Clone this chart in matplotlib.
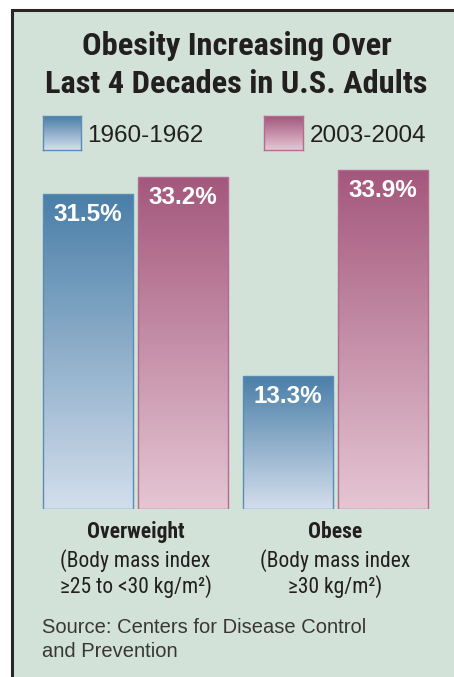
import numpy as np
import matplotlib
matplotlib.use("Agg")
import matplotlib.pyplot as plt
from matplotlib.lines import Line2D
from matplotlib.patches import Rectangle
from matplotlib.colors import LinearSegmentedColormap

# ---------------- data ----------------
categories = ["Overweight", "Obese"]
cat_notes = ["(Body mass index\n\u226525 to <30 kg/m\u00b2)", "(Body mass index\n\u226530 kg/m\u00b2)"]
series_names = ["1960-1962", "2003-2004"]
values_1960 = [31.5, 13.3]
values_2003 = [33.2, 33.9]
title_lines = ["Obesity Increasing Over", "Last 4 Decades in U.S. Adults"]
source_lines = ["Source: Centers for Disease Control", "and Prevention"]

W, H = 454, 677
DPI = 100
fig = plt.figure(figsize=(W / DPI, H / DPI), dpi=DPI)
fig.patch.set_facecolor("white")

def fx(x):
    return x / W

def fy(y):
    return 1 - y / H

BG = "#d2e2d8"
DARK = "#231f20"
COND = ["Roboto Condensed", "DejaVu Sans"]
REG = ["Liberation Sans", "DejaVu Sans"]

# background panel and frame
fig.patches.append(Rectangle((fx(12), 0), 1 - fx(12), fy(9), transform=fig.transFigure,
                             facecolor=BG, edgecolor="none", zorder=-10))
fig.lines.append(Line2D([fx(12), fx(12), 1], [0, fy(9.5), fy(9.5)], transform=fig.transFigure,
                        color="#2a2626", lw=2.2, solid_joinstyle="miter", zorder=-5))

blue_cmap = LinearSegmentedColormap.from_list("b", ["#d3deec", "#4a7fa8"])
pink_cmap = LinearSegmentedColormap.from_list("p", ["#e5c6d3", "#a4577c"])
blue_edge = "#5a8cb8"
pink_edge = "#b36c90"

# axes: bottom at y=509 px, 10 px per percent
ax_bottom = 509
ax_top = 169
ax = fig.add_axes([fx(35.5), fy(ax_bottom), fx(400), (ax_bottom - ax_top) / H])
ax.axis("off")

x = np.arange(len(categories))
bw = 0.45
off = 0.2375
grad = np.linspace(0, 1, 256).reshape(-1, 1)

def grad_bars(xs, vals, cmap, edge):
    bars = ax.bar(xs, vals, width=bw, facecolor="none", edgecolor=edge, linewidth=1.0, zorder=3)
    for b in bars:
        x0, y0 = b.get_x(), b.get_y()
        im = ax.imshow(grad, cmap=cmap, origin="lower", aspect="auto",
                       extent=[x0, x0 + b.get_width(), y0, y0 + b.get_height()], zorder=2)
        im.set_clip_path(b)
    return bars

grad_bars(x - off, values_1960, blue_cmap, blue_edge)
grad_bars(x + off, values_2003, pink_cmap, pink_edge)
ax.set_xlim(-0.5, 1.5)
ax.set_ylim(0, (ax_bottom - ax_top) / 10)

for xs, vals in ((x - off, values_1960), (x + off, values_2003)):
    for xi, v in zip(xs, vals):
        ax.annotate(f"{v:.1f}%", (xi, v), xytext=(0, -27), textcoords="offset pixels",
                    ha="center", va="baseline", color="white", fontsize=17.5,
                    fontweight="bold", family=REG, zorder=5)

for xi, cat, note in zip(x, categories, cat_notes):
    ax.annotate(cat, (xi, 0), xytext=(0, -29), textcoords="offset pixels", ha="center",
                va="baseline", fontsize=15.5, fontweight="bold", family=COND, color=DARK,
                annotation_clip=False)
    for k, line in enumerate(note.split("\n")):
        ax.annotate(line, (xi, 0), xytext=(0, -58 - 26 * k), textcoords="offset pixels",
                    ha="center", va="baseline", fontsize=15.5, family=COND, color=DARK,
                    annotation_clip=False)

# title
for yb, t in zip((55, 93), title_lines):
    fig.text(fx(236.5), fy(yb), t, ha="center", va="baseline", fontsize=23.3,
             fontweight="bold", family=COND, color=DARK)

# legend
leg_boxes = [(43, 81), (264, 303)]
leg_text_x = [87, 310]
for (x0, x1), tx, name, cmap, edge in zip(leg_boxes, leg_text_x, series_names,
                                          (blue_cmap, pink_cmap), (blue_edge, pink_edge)):
    lax = fig.add_axes([fx(x0), fy(150), fx(x1 - x0), 34 / H])
    lax.imshow(np.linspace(0.15, 1, 64).reshape(-1, 1), cmap=cmap, origin="lower",
               aspect="auto", extent=[0, 1, 0, 1])
    lax.set_xticks([]); lax.set_yticks([])
    for s in lax.spines.values():
        s.set_color(edge); s.set_linewidth(1.0)
    fig.text(fx(tx), fy(142), name, ha="left", va="baseline", fontsize=17.5,
             family=REG, color=DARK)

# source
for yb, t in zip((633, 657), source_lines):
    fig.text(fx(42), fy(yb), t, ha="left", va="baseline", fontsize=14.5,
             family=REG, color="#3a3636")

fig.savefig("out.png", dpi=DPI)
